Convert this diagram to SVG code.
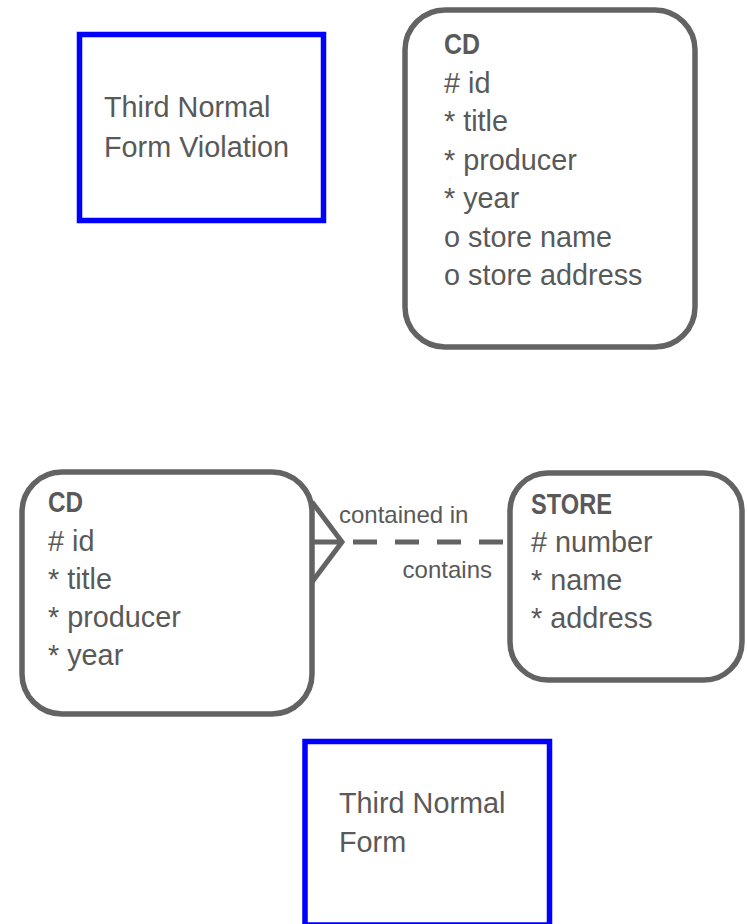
<svg xmlns="http://www.w3.org/2000/svg" width="747" height="924" viewBox="0 0 747 924">
  <style>
    .entity { fill: #ffffff; stroke: #636363; stroke-width: 5.5; }
    .note { fill: #ffffff; stroke: #0000ff; stroke-width: 5.5; }
    .txt { font-family: "Liberation Sans", Arial, sans-serif; font-size: 28.8px; fill: #595959; }
    .hdr { font-family: "Liberation Sans", Arial, sans-serif; font-size: 28.8px; font-weight: bold; fill: #595959; }
    .lbl { font-family: "Liberation Sans", Arial, sans-serif; font-size: 24px; fill: #595959; }
    .rel { fill: none; stroke: #636363; stroke-width: 5; }
  </style>
  <rect width="747" height="924" fill="#ffffff"/>

  <!-- note: violation -->
  <g id="note-violation">
    <rect class="note" x="79.5" y="34.5" width="244" height="186"/>
    <text class="txt" x="104" y="117">Third Normal</text>
    <text class="txt" x="104" y="157">Form Violation</text>
  </g>

  <!-- CD entity, denormalised -->
  <g id="cd-violation">
    <rect class="entity" x="405" y="10" width="290" height="337" rx="40" ry="40"/>
    <text class="hdr" x="444" y="54" textLength="36" lengthAdjust="spacingAndGlyphs">CD</text>
    <text class="txt" x="444" y="92.5"># id</text>
    <text class="txt" x="444" y="131">* title</text>
    <text class="txt" x="444" y="169.5">* producer</text>
    <text class="txt" x="444" y="208">* year</text>
    <text class="txt" x="444" y="246.5">o store name</text>
    <text class="txt" x="444" y="285">o store address</text>
  </g>

  <!-- connectors -->
  <g id="connectors">
    <path class="rel" d="M312,502 L342,542 L312,582 M312,542 L342,542"/>
    <path class="rel" d="M503,542 L353,542" stroke-dasharray="24 18"/>
    <text class="lbl" x="339" y="523">contained in</text>
    <text class="lbl" x="492" y="578" text-anchor="end">contains</text>
  </g>

  <!-- CD entity, normalised -->
  <g id="cd">
    <rect class="entity" x="22" y="472" width="290" height="242" rx="40" ry="40"/>
    <text class="hdr" x="48" y="512" textLength="35" lengthAdjust="spacingAndGlyphs">CD</text>
    <text class="txt" x="48" y="551"># id</text>
    <text class="txt" x="48" y="589">* title</text>
    <text class="txt" x="48" y="627">* producer</text>
    <text class="txt" x="48" y="665">* year</text>
  </g>

  <!-- STORE entity -->
  <g id="store">
    <rect class="entity" x="510" y="473" width="232" height="207" rx="38" ry="38"/>
    <text class="hdr" x="531" y="514" textLength="81" lengthAdjust="spacingAndGlyphs">STORE</text>
    <text class="txt" x="531" y="552"># number</text>
    <text class="txt" x="531" y="590">* name</text>
    <text class="txt" x="531" y="628">* address</text>
  </g>

  <!-- note: normal form -->
  <g id="note-normal">
    <rect class="note" x="305" y="741.5" width="244.5" height="183.5"/>
    <text class="txt" x="339" y="813">Third Normal</text>
    <text class="txt" x="339" y="852">Form</text>
  </g>
</svg>
